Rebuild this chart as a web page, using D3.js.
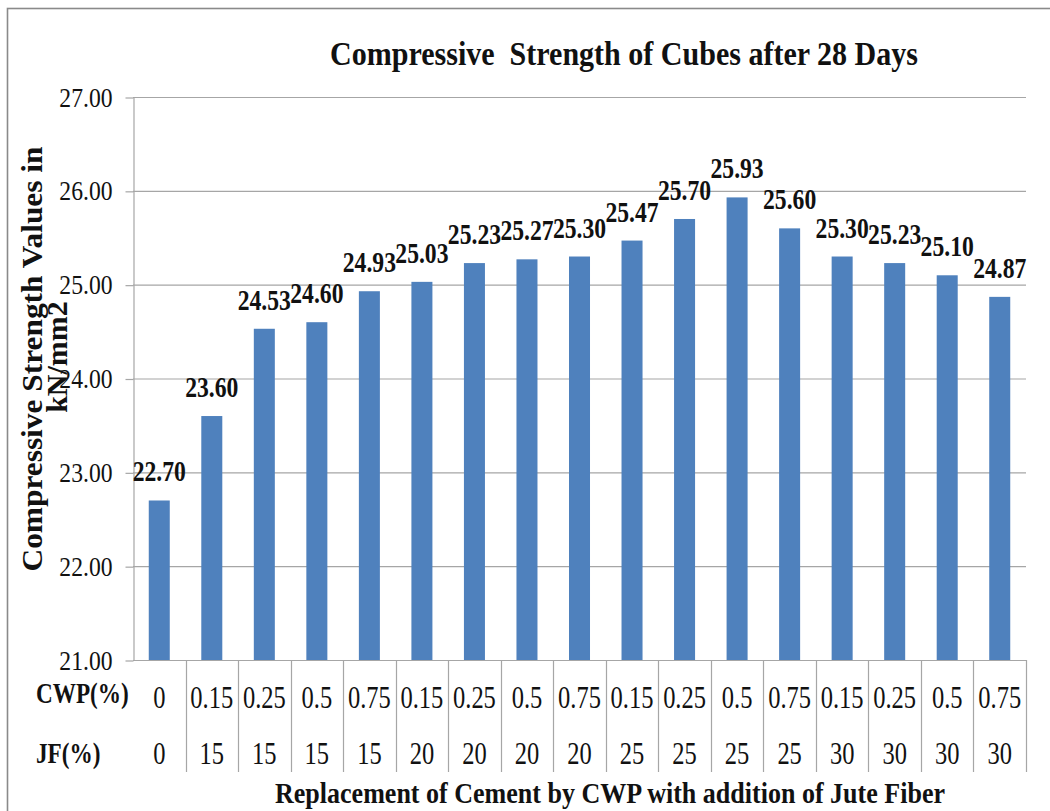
<!DOCTYPE html>
<html><head><meta charset="utf-8">
<script src="https://cdn.jsdelivr.net/npm/d3@7"></script>
<style>
body{margin:0;background:#fff}
text{font-family:"Liberation Serif","Times New Roman",serif;fill:#111}
</style>
</head><body>
<svg id="c" width="1050" height="811"></svg>
<script>
const cwp = ["0","0.15","0.25","0.5","0.75","0.15","0.25","0.5","0.75","0.15","0.25","0.5","0.75","0.15","0.25","0.5","0.75"];
const jf = ["0","15","15","15","15","20","20","20","20","25","25","25","25","30","30","30","30"];
const strength = [22.70,23.60,24.53,24.60,24.93,25.03,25.23,25.27,25.30,25.47,25.70,25.93,25.60,25.30,25.23,25.10,24.87];
const yTicks = [21,22,23,24,25,26,27];
const chartTitle = "Compressive  Strength of Cubes after 28 Days";
const xTitle = "Replacement of Cement by CWP with addition of Jute Fiber";
const yTitle = ["Compressive Strength Values in","kN/mm2"];
const rowHeads = ["CWP(%)","JF(%)"];

const svg = d3.select("#c");
const m = {l:133, r:1026, t:97, b:660};
const idx = strength.map((d,i)=>i);
const x = d3.scaleBand().domain(idx).range([m.l,m.r]).paddingInner(0.6).paddingOuter(0.3);
const y = d3.scaleLinear().domain([21,27]).range([m.b,m.t]);
const step = x.step();
const cx = i => x(i) + x.bandwidth()/2;

// outer border
svg.append("rect").attr("x",7.5).attr("y",8.5).attr("width",1100).attr("height",900)
  .attr("fill","none").attr("stroke","#8a8a8a").attr("stroke-width",1.6);

// gridlines
svg.append("g").selectAll("line").data(yTicks).join("line")
  .attr("x1",m.l).attr("x2",m.r).attr("y1",d=>y(d)+0.5).attr("y2",d=>y(d)+0.5)
  .attr("stroke","#a6a6a6").attr("stroke-width",1.2);

// y axis
const yAxis = svg.append("g").attr("transform",`translate(${m.l+0.5},0)`)
  .call(d3.axisLeft(y).tickValues(yTicks).tickFormat(d=>d.toFixed(2)).tickSizeInner(8).tickSizeOuter(0))
  .attr("font-family",'"Liberation Serif","Times New Roman",serif');
yAxis.select(".domain").attr("stroke","#a6a6a6").attr("stroke-width",1.2);
yAxis.selectAll(".tick line").attr("stroke","#a6a6a6").attr("stroke-width",1.2).attr("transform","translate(0,0.5)");
const SXT = 0.86;
yAxis.selectAll(".tick text")
  .attr("font-size",27.5).attr("fill","#111")
  .attr("x",-21/SXT).attr("dy","0.33em")
  .attr("transform",`scale(${SXT},1)`);

// bars
svg.append("g").selectAll("rect").data(strength).join("rect")
  .attr("x",(d,i)=>x(i)).attr("width",x.bandwidth())
  .attr("y",d=>y(d)).attr("height",d=>y(21)-y(d))
  .attr("fill","#4F81BD");

// bar labels
const SXL = 0.83;
svg.append("g").selectAll("text").data(strength).join("text")
  .attr("transform",(d,i)=>`translate(${cx(i)},${y(d)-19}) scale(${SXL},1)`)
  .attr("text-anchor","middle").attr("font-size",28.5).attr("font-weight","bold")
  .text(d=>d.toFixed(2));

// table lines
svg.append("g").selectAll("line").data(idx).join("line")
  .attr("x1",i=>Math.round(cx(i)+step/2)+0.5).attr("x2",i=>Math.round(cx(i)+step/2)+0.5)
  .attr("y1",m.b).attr("y2",772)
  .attr("stroke","#a6a6a6").attr("stroke-width",1.2);

// table values
const SXV = 0.79;
[cwp, jf].forEach((row,r)=>{
  svg.append("g").selectAll("text").data(row).join("text")
    .attr("transform",(d,i)=>`translate(${cx(i)},${[708,764][r]}) scale(${SXV},1)`)
    .attr("text-anchor","middle").attr("font-size",31)
    .text(d=>d);
});
// row heads
svg.append("g").selectAll("text").data(rowHeads).join("text")
  .attr("transform",(d,i)=>`translate(36,${[703,763][i]}) scale(0.8,1)`)
  .attr("font-size",29).attr("font-weight","bold")
  .text(d=>d);

// titles
svg.append("text").attr("x",624).attr("y",65).attr("text-anchor","middle")
  .attr("font-size",33).attr("font-weight","bold")
  .attr("textLength",588).attr("lengthAdjust","spacingAndGlyphs")
  .style("white-space","pre").text(chartTitle);
svg.append("text").attr("x",610).attr("y",803).attr("text-anchor","middle")
  .attr("font-size",30).attr("font-weight","bold")
  .attr("textLength",670).attr("lengthAdjust","spacingAndGlyphs")
  .text(xTitle);
svg.append("text").attr("transform","translate(42,359) rotate(-90)").attr("text-anchor","middle")
  .attr("font-size",30).attr("font-weight","bold")
  .attr("textLength",425).attr("lengthAdjust","spacingAndGlyphs")
  .text(yTitle[0]);
svg.append("text").attr("transform","translate(67,357) rotate(-90)").attr("text-anchor","middle")
  .attr("font-size",30).attr("font-weight","bold")
  .text(yTitle[1]);
</script>
</body></html>
